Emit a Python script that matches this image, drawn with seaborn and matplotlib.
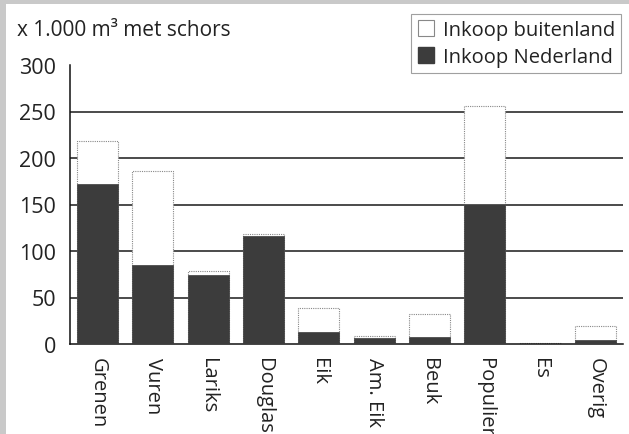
import numpy as np
import pandas as pd
import matplotlib
matplotlib.use("Agg")
import matplotlib.pyplot as plt
from matplotlib.patches import Rectangle, Patch
import seaborn as sns

# data (x 1.000 m3 met schors)
categories = ["Grenen", "Vuren", "Lariks", "Douglas", "Eik",
              "Am. Eik", "Beuk", "Populier", "Es", "Overig"]
inkoop_nederland = [172, 85, 74, 116, 13, 6, 8, 151, 0.5, 4]
inkoop_buitenland = [46, 101, 4, 2, 26, 3, 24, 105, 0.5, 15]

df = pd.DataFrame({
    "soort": categories,
    "nederland": inkoop_nederland,
    "buitenland": inkoop_buitenland,
})
df["totaal"] = df["nederland"] + df["buitenland"]

sns.set_style("white")
plt.rcParams["font.family"] = ["Open Sans", "DejaVu Sans"]

DARK = "#3c3c3c"

fig = plt.figure(figsize=(6.29, 4.35), dpi=100, facecolor="#c9c9c9")
fig.patches.append(Rectangle((6 / 629, 0), 1, 1 - 5 / 435, transform=fig.transFigure,
                             facecolor="white", edgecolor="none", zorder=-10))
ax = fig.add_axes([70 / 629, 1 - 345 / 435, 553 / 629, (345 - 66) / 435])
ax.set_zorder(5)
ax.set_facecolor("none")

# gridlines behind bars
for y in [50, 100, 150, 200, 250]:
    ax.axhline(y, color="#1a1a1a", lw=1.1, zorder=0)

sns.barplot(data=df, x="soort", y="totaal", color="white", edgecolor="#888888",
            linewidth=0.8, linestyle=(0, (1, 1)), width=0.74, saturation=1,
            ax=ax, zorder=2)
sns.barplot(data=df, x="soort", y="nederland", color=DARK, edgecolor=DARK,
            linewidth=0.5, width=0.74, saturation=1, ax=ax, zorder=3)

ax.set_xlim(-0.5, len(categories) - 0.5)
ax.set_ylim(0, 300)
ax.set_yticks([0, 50, 100, 150, 200, 250, 300])
ax.set_xlabel("")
ax.set_ylabel("")

for s in ["top", "right"]:
    ax.spines[s].set_visible(False)
for s in ["left", "bottom"]:
    ax.spines[s].set_color("#111111")
    ax.spines[s].set_linewidth(1.1)

# category boundary ticks on x, labels centred under bars
ax.set_xticks(np.arange(len(categories)))
ax.set_xticklabels(categories, rotation=270, fontsize=14.5, color="#222222",
                   va="top", ha="center")
ax.set_xticks(np.arange(len(categories) + 1) - 0.5, minor=True)
ax.tick_params(axis="x", which="major", length=0, pad=9)
ax.tick_params(axis="x", which="minor", length=5, width=1.1, color="#111111",
               direction="out")
ax.tick_params(axis="y", length=9, width=1.1, color="#111111", direction="out",
               labelsize=15.5, labelcolor="#222222", pad=1)

fig.text(17 / 629, 1 - 30 / 435, "x 1.000 m³ met schors", fontsize=15,
         color="#222222", va="center", ha="left")

handles = [Patch(facecolor="white", edgecolor="#888888", linewidth=0.8),
           Patch(facecolor=DARK, edgecolor=DARK)]
leg = ax.legend(handles, ["Inkoop buitenland", "Inkoop Nederland"],
                loc="upper right", bbox_to_anchor=(621 / 629, 1 - 15 / 435),
                bbox_transform=fig.transFigure, frameon=True, fancybox=False,
                fontsize=14.5, handlelength=0.8, handleheight=0.8,
                handletextpad=0.45, borderpad=0.3, labelspacing=0.35,
                borderaxespad=0)
leg.get_frame().set_edgecolor("#888888")
leg.get_frame().set_linewidth(0.8)
for t in leg.get_texts():
    t.set_color("#222222")

fig.savefig("out.png", dpi=100, facecolor=fig.get_facecolor())
